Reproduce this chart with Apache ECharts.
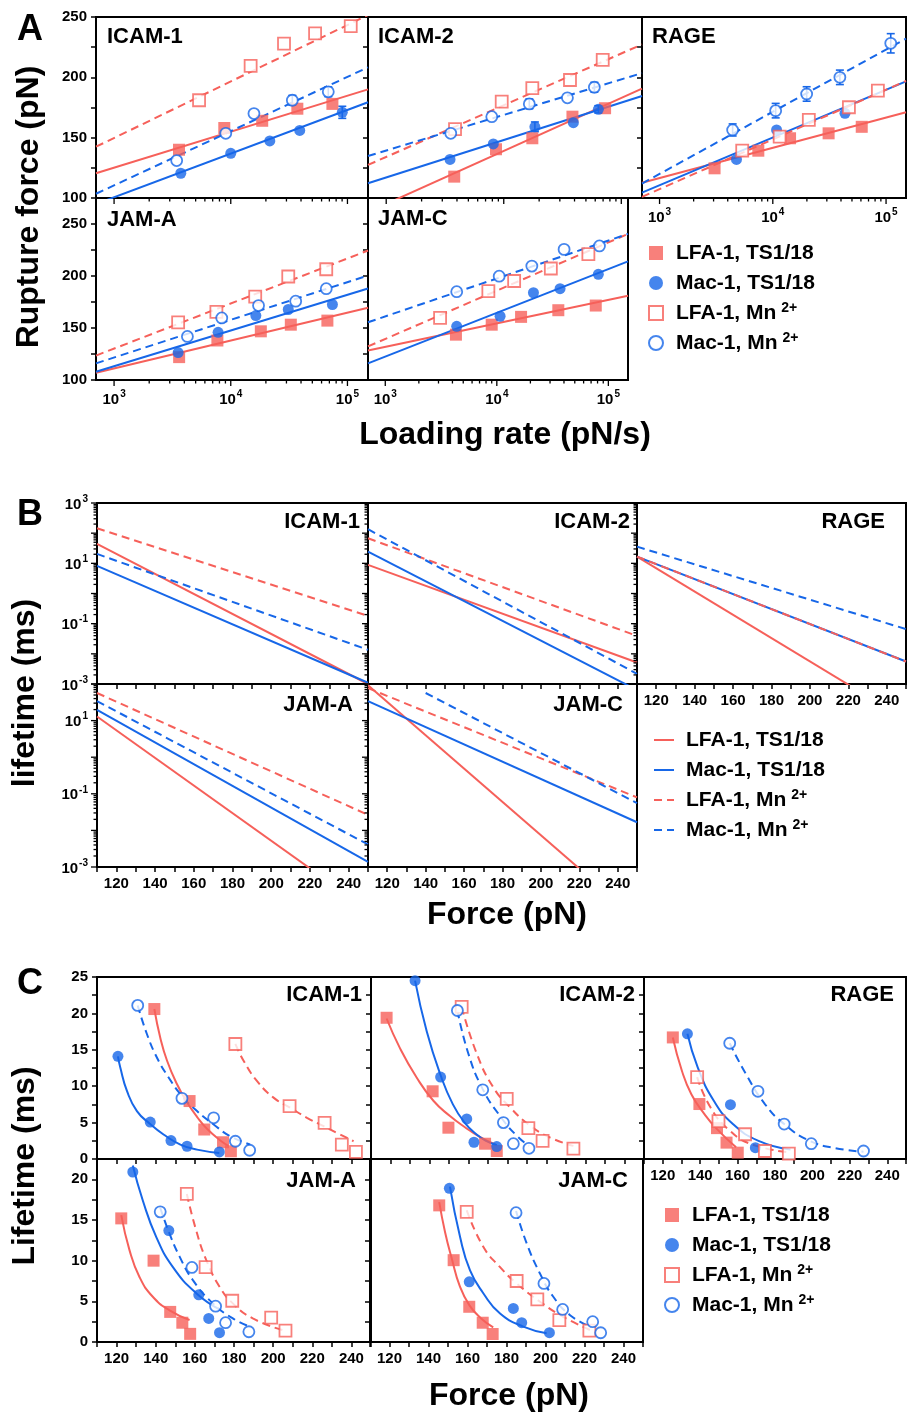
<!DOCTYPE html>
<html>
<head>
<meta charset="utf-8">
<script src="https://cdn.jsdelivr.net/npm/echarts@6/dist/echarts.min.js"></script>
<style>
html, body { margin: 0; background: #fff; }
#chart { width: 909px; height: 1415px; }
</style>
</head>
<body>
<div id="chart"></div>
<script>
const RED = '#f6605a';
const BLUE = '#1767e8';
const INK = '#000';
const FONT = '"Liberation Sans", Arial, sans-serif';

// ---------- A: rupture force (pN) vs loading rate (pN/s) ----------
const rupIcam1LfaTs = [[3600,140],[8800,158],[18600,164],[37200,174],[74300,178]];
const rupIcam1MacTs = [[3730,120.5],[10000,137],[21600,147.3],[39000,156],[90300,171]];
const rupIcam1LfaMn = [[5350,181],[14800,209.5],[28600,228],[52800,236.5],[106700,242.5]];
const rupIcam1MacMn = [[3440,131],[9060,153.6],[15800,170],[33700,181],[68500,188]];
const fitIcam1LfaTs = [[700,120.5],[150000,190]];
const fitIcam1MacTs = [[700,95],[150000,179.3]];
const fitIcam1LfaMn = [[700,142.5],[150000,251.6]];
const fitIcam1MacMn = [[700,103.5],[150000,208.3]];

const rupIcam2LfaTs = [[3790,117.7],[8590,140.4],[17500,149.5],[38400,167.4],[72800,174.4]];
const rupIcam2MacTs = [[3490,132],[8150,144.8],[18400,159],[39100,162.4],[63800,173.5]];
const rupIcam2LfaMn = [[3850,157],[9610,179.8],[17500,191],[36600,197.8],[69500,214.4]];
const rupIcam2MacMn = [[3540,153.6],[7910,167.4],[16500,178],[34800,183],[59000,191.8]];
const fitIcam2LfaTs = [[700,88.3],[150000,190.7]];
const fitIcam2MacTs = [[700,112.2],[150000,184.5]];
const fitIcam2LfaMn = [[700,127.4],[150000,227.3]];
const fitIcam2MacMn = [[700,134.8],[150000,203.5]];

const rupRageLfaTs = [[3060,124.6],[7450,139.2],[14200,149.5],[31100,153.6],[61000,159]];
const rupRageMacTs = [[4780,132],[10800,156.4],[43400,170.2]];
const rupRageLfaMn = [[5370,139.2],[11500,150.8],[20800,164.7],[47000,175.2],[84700,189]];
const rupRageMacMn = [[4420,156.4],[10600,172.4],[19900,186.2],[39100,200],[110000,228.2]];
const fitRageLfaTs = [[700,112.7],[150000,171]];
const fitRageMacTs = [[700,104.4],[150000,196.6]];
const fitRageLfaMn = [[700,101],[150000,197]];
const fitRageMacMn = [[700,112],[150000,232]];

const rupJamALfaTs = [[3610,122],[7680,138],[18100,146.8],[32700,153.2],[67300,157.1]];
const rupJamAMacTs = [[3540,126.4],[7790,145.8],[16400,162],[31100,167.8],[74300,172.6]];
const rupJamALfaMn = [[3540,155.5],[7530,165.5],[16200,180.1],[31100,199.5],[65800,206.5]];
const rupJamAMacMn = [[4250,141.9],[8370,159.7],[17300,171.6],[36000,175.8],[65800,187.8]];
const fitJamALfaTs = [[700,107],[150000,169.5]];
const fitJamAMacTs = [[700,108],[150000,188]];
const fitJamALfaMn = [[700,123.5],[150000,224.5]];
const fitJamAMacMn = [[700,116],[150000,200.5]];

const rupJamCLfaTs = [[4300,143.6],[9000,153.2],[16500,160.7],[35600,167.1],[77100,171.6]];
const rupJamCMacTs = [[4370,151.6],[10700,161.3],[21300,183.9],[36900,187.8],[81300,201.6]];
const rupJamCLfaMn = [[3100,159.7],[8400,185.5],[14300,195.2],[30500,207.2],[66200,221]];
const rupJamCMacMn = [[4370,184.9],[10500,199.8],[20600,209.5],[40100,225.6],[83200,228.9]];
const fitJamCLfaTs = [[700,128.4],[150000,181]];
const fitJamCMacTs = [[700,116],[150000,214]];
const fitJamCLfaMn = [[700,132.3],[150000,240.5]];
const fitJamCMacMn = [[700,155.5],[150000,240.5]];

// error bars: [rate, force, half-width]
const errIcam1MacTs = [[90300,171,5]];
const errIcam1MacMn = [[33700,181,4],[68500,188,4]];
const errIcam2MacTs = [[18400,159,4],[63800,173.5,3]];
const errIcam2MacMn = [[16500,178,4],[59000,191.8,4]];
const errRageMacMn = [[4420,156.4,5],[10600,172.4,6],[19900,186.2,6],[39100,200,6],[110000,228.2,8]];

// ---------- B: fitted lifetime (ms) vs force (pN) ----------
const lifeIcam1LfaTs = [[110,43.9],[250,0.001]];
const lifeIcam1MacTs = [[110,8.2],[250,0.0011]];
const lifeIcam1LfaMn = [[110,145],[250,0.181]];
const lifeIcam1MacMn = [[110,20.5],[250,0.0136]];
const lifeIcam2LfaTs = [[110,8.85],[250,0.00515]];
const lifeIcam2MacTs = [[110,24.4],[250,0.00063]];
const lifeIcam2LfaMn = [[110,67.6],[250,0.0394]];
const lifeIcam2MacMn = [[110,135],[250,0.00218]];
const lifeRageLfaTs = [[110,16.7],[250,0.000066]];
const lifeRageMacTs = [[110,16.7],[250,0.00556]];
const lifeRageLfaMn = [[110,16.7],[250,0.00556]];
const lifeRageMacMn = [[110,35.7],[250,0.066]];
const lifeJamALfaTs = [[110,12.9],[250,0.000068]];
const lifeJamAMacTs = [[110,19.7],[250,0.00137]];
const lifeJamALfaMn = [[110,56.8],[250,0.0266]];
const lifeJamAMacMn = [[110,34.1],[250,0.00413]];
const lifeJamCLfaTs = [[110,92],[250,0.000039]];
const lifeJamCMacTs = [[110,34.1],[250,0.0167]];
const lifeJamCLfaMn = [[110,77],[250,0.08]];
const lifeJamCMacMn = [[140,56.8],[250,0.0558]];

// ---------- C: lifetime (ms) vs force (pN) ----------
const ltIcam1LfaTs = [[139.3,20.6],[157.3,7.96],[164.8,4.05],[174.4,2.3],[178.4,1.06]];
const ltIcam1MacTs = [[120.7,14.1],[137.2,5.07],[147.8,2.53],[156,1.75],[172.5,0.97]];
const ltIcam1LfaMn = [[180.7,15.8],[208.4,7.27],[226.3,4.97],[235.1,1.98],[242.3,0.97]];
const ltIcam1MacMn = [[130.8,21.1],[153.4,8.33],[169.6,5.66],[180.7,2.44],[188,1.2]];
const crvIcam1LfaTs = [[139.3,20.6],[142.3,16.7],[145.8,13.5],[150.9,10.27],[156,7.8],[161.1,5.8],[166.2,4.15],[173,2.55],[177.2,1.8]];
const crvIcam1MacTs = [[120.7,14.1],[121.9,12.57],[125.3,9.35],[130.4,6.58],[137.2,4.8],[144,3.36],[152.6,1.98],[161.1,1.29],[172.5,0.83]];
const crvIcam1LfaMn = [[180.7,15.8],[184.9,13.49],[191.7,10.73],[200.2,8.43],[208.7,7.04],[217.3,5.66],[225.8,4.51],[234.3,3.36],[241.1,2.44]];
const crvIcam1MacMn = [[130.8,21.1],[135.5,17.17],[140.6,13.95],[146.6,11.19],[153.4,8.66],[161.1,6.58],[169.6,4.74],[178.1,3.13],[188.3,1.98]];

const ltIcam2LfaTs = [[118,19.4],[141.6,9.3],[149.7,4.3],[168.5,2.1],[174.5,1.1]];
const ltIcam2MacTs = [[132.6,24.5],[145.7,11.25],[159.1,5.5],[162.8,2.3],[174.5,1.7]];
const ltIcam2LfaMn = [[156.5,20.9],[179.6,8.25],[190.7,4.24],[198,2.5],[213.8,1.42]];
const ltIcam2MacMn = [[154.3,20.4],[167.3,9.5],[177.9,5.0],[183,2.1],[191,1.47]];
const crvIcam2LfaTs = [[118,19.3],[124.9,15.2],[133.4,11.2],[142,8.0],[150.5,5.9],[158,4.4],[166,3.0],[174.5,1.9]];
const crvIcam2MacTs = [[132.6,24.5],[138.6,17.5],[145.7,11.5],[152,7.5],[158,5.0],[164,3.4],[169,2.5],[174.5,1.9]];
const crvIcam2LfaMn = [[156.5,20.9],[164.2,14.5],[172.7,9.85],[181.3,7.1],[191.5,4.6],[201.8,2.95],[213.8,1.8]];
const crvIcam2MacMn = [[154.3,20.4],[159.9,14.5],[167.3,9.6],[176.2,5.9],[184.7,3.2],[191,1.8]];

const ltRageLfaTs = [[125.4,16.7],[139.6,7.55],[149,4.24],[154.1,2.25],[160.1,0.87]];
const ltRageMacTs = [[133.2,17.2],[156.2,7.46],[169.5,1.56]];
const ltRageLfaMn = [[138.4,11.25],[149.8,5.2],[164,3.4],[174.6,1.1],[187.4,0.73]];
const ltRageMacMn = [[155.8,15.9],[170.9,9.3],[184.9,4.8],[199.4,2.1],[227.3,1.1]];
const crvRageLfaTs = [[125.4,16.7],[130.2,12.15],[135.3,8.9],[142.2,6.2],[149,4.1],[159.2,1.6]];
const crvRageMacTs = [[133.2,17.2],[138.7,12.6],[147.3,8.0],[157.5,4.8],[171.2,2.5],[188.3,1.3]];
const crvRageLfaMn = [[138.4,11.25],[145.5,7.1],[155.8,3.9],[167.8,2.0],[188.3,0.9]];
const crvRageMacMn = [[155.8,15.9],[164.4,11.7],[174.6,7.55],[184.9,4.8],[198.5,2.5],[212.2,1.5],[227.3,1.0]];

const ltJamALfaTs = [[122.4,15.2],[138.9,10.0],[147.4,3.7],[153.6,2.37],[157.6,1.0]];
const ltJamAMacTs = [[128.3,20.9],[146.7,13.7],[162,5.8],[167.1,2.9],[172.6,1.15]];
const ltJamALfaMn = [[155.9,18.2],[165.5,9.2],[179.1,5.07],[199,3.0],[206.3,1.4]];
const ltJamAMacMn = [[142.3,16.0],[158.5,9.17],[170.6,4.4],[175.7,2.37],[187.6,1.26]];
const crvJamALfaTs = [[122.4,15.6],[126.6,11.3],[131.7,8.0],[138.5,5.56],[147.1,3.9],[157.3,2.7]];
const crvJamAMacTs = [[128.3,21.7],[133.4,17.4],[140.3,12.9],[148.8,9.2],[160.7,6.0],[172.6,4.0]];
const crvJamALfaMn = [[155.9,18.2],[160.7,13.7],[165.8,10.1],[172.6,6.8],[179.4,4.75],[189.6,2.9],[204.9,1.47]];
const crvJamAMacMn = [[142.3,16.5],[147.1,13.3],[152.2,10.5],[159,7.6],[169.2,4.75],[179.4,2.9],[188,1.9]];

const ltJamCLfaTs = [[145.5,16.8],[152.9,10.06],[160.9,4.33],[167.8,2.37],[172.9,0.98]];
const ltJamCMacTs = [[150.7,18.9],[160.9,7.4],[183.5,4.13],[187.8,2.37],[202,1.14]];
const ltJamCLfaMn = [[159.6,16.0],[185.2,7.5],[195.8,5.24],[207.1,2.7],[222.5,1.39]];
const ltJamCMacMn = [[184.9,15.9],[199.2,7.2],[208.8,4.0],[224.2,2.5],[228.3,1.14]];
const crvJamCLfaTs = [[145.5,17.2],[148.5,13.5],[152,10.2],[156,6.9],[161,4.5],[167,2.9],[173.2,1.8]];
const crvJamCMacTs = [[151,19.1],[156.2,12.9],[161.3,8.8],[168.1,6.0],[176.7,3.5],[188.6,1.9],[200.6,1.07]];
const crvJamCLfaMn = [[159.6,16.2],[168.1,11.7],[176.7,9.2],[185.2,7.2],[197.2,4.95],[209.1,3.1],[222.8,1.47]];
const crvJamCMacMn = [[184.9,16.1],[190.4,12.1],[197.2,8.4],[204,5.56],[212.6,3.3],[222.8,1.9]];

// log-axis tick positions
const rateTicks = [1000,2000,3000,4000,5000,6000,7000,8000,9000,
  10000,20000,30000,40000,50000,60000,70000,80000,90000,100000];
const lifeTicks = [0.001,0.002,0.003,0.004,0.005,0.006,0.007,0.008,0.009,
  0.01,0.02,0.03,0.04,0.05,0.06,0.07,0.08,0.09,
  0.1,0.2,0.3,0.4,0.5,0.6,0.7,0.8,0.9,
  1,2,3,4,5,6,7,8,9,
  10,20,30,40,50,60,70,80,90,
  100,200,300,400,500,600,700,800,900,1000];

const kinds = [
  {name: 'LFA-1, TS1/18', color: RED, symbol: 'rect', open: false, dash: false},
  {name: 'Mac-1, TS1/18', color: BLUE, symbol: 'circle', open: false, dash: false},
  {name: 'LFA-1, Mn2+', color: RED, symbol: 'rect', open: true, dash: true},
  {name: 'Mac-1, Mn2+', color: BLUE, symbol: 'circle', open: true, dash: true}
];

const option = {
  animation: false,
  backgroundColor: '#fff',
  grid: [], xAxis: [], yAxis: [], series: [], legend: [],
  graphic: {elements: []}
};

const labelFont = {color: INK, fontFamily: FONT, fontWeight: 'bold', fontSize: 15};
const supRich = {
  b: {color: INK, fontFamily: FONT, fontWeight: 'bold', fontSize: 15, lineHeight: 18, verticalAlign: 'bottom'},
  s: {color: INK, fontFamily: FONT, fontWeight: 'bold', fontSize: 10, lineHeight: 11, verticalAlign: 'top', padding: [0, 0, 0, 1]}
};

function powLabel(v, keep) {
  const e = Math.log10(v), r = Math.round(e);
  if (Math.abs(e - r) > 1e-6 || !keep(r)) return '';
  return '{b|10}{s|' + r + '}';
}

function linAxis(min, max, step, show, fmt) {
  return {
    type: 'value', min, max, interval: step,
    axisLine: {show: false}, splitLine: {show: false},
    axisTick: {show: true, length: 5, lineStyle: {color: INK, width: 1.5}},
    axisLabel: Object.assign({show, margin: 9, formatter: fmt}, labelFont)
  };
}

function logAxis(min, max, show, keep) {
  return {
    type: 'log', logBase: 10, min, max,
    axisLine: {show: false}, splitLine: {show: false},
    axisTick: {show: false}, minorTick: {show: false},
    axisLabel: {show, margin: 9, formatter: v => powLabel(v, keep), rich: supRich}
  };
}

function addGrid(box, xAx, yAx) {
  const i = option.grid.length;
  option.grid.push({left: box[0], top: box[1], width: box[2], height: box[3],
    show: true, borderColor: INK, borderWidth: 2, backgroundColor: 'rgba(0,0,0,0)'});
  option.xAxis.push(Object.assign({gridIndex: i}, xAx));
  option.yAxis.push(Object.assign({gridIndex: i}, yAx));
  return i;
}

// log ticks drawn through the axis scale (major at decades, minor between)
function logTicks(gi, dim, values, at, lo, hi) {
  const vals = values.filter(v => v >= lo * 0.999 && v <= hi * 1.001);
  option.series.push({
    type: 'custom', xAxisIndex: gi, yAxisIndex: gi, silent: true, clip: false, z: 5,
    data: vals.map(v => dim === 'x' ? [v, at] : [at, v]),
    renderItem: (params, api) => {
      const v = api.value(dim === 'x' ? 0 : 1);
      const e = Math.log10(v);
      const len = Math.abs(e - Math.round(e)) < 1e-6 ? 6 : 3.5;
      const p = api.coord([api.value(0), api.value(1)]);
      const shape = dim === 'x'
        ? {x1: p[0], y1: p[1], x2: p[0], y2: p[1] + len}
        : {x1: p[0], y1: p[1], x2: p[0] - len, y2: p[1]};
      return {type: 'line', shape, style: {stroke: INK, lineWidth: 1.3}};
    }
  });
}

function fitLine(gi, data, k, name, smooth) {
  return {
    type: 'line', name, xAxisIndex: gi, yAxisIndex: gi, data,
    symbol: 'none', silent: true, z: 2, clip: true,
    smooth: smooth ? 0.5 : false,
    lineStyle: {color: k.color, width: 2, type: k.dash ? [8, 5] : 'solid'},
    itemStyle: {color: k.color}
  };
}

function points(gi, data, k, sec) {
  return {
    type: 'scatter', name: sec + '|' + k.name, xAxisIndex: gi, yAxisIndex: gi, data,
    symbol: k.symbol, symbolSize: k.symbol === 'rect' ? 12 : 11, z: 4, silent: true,
    itemStyle: k.open ? {color: '#fff', borderColor: k.color, borderWidth: 1.8} : {color: k.color}
  };
}

function errBars(gi, data, color) {
  return {
    type: 'custom', xAxisIndex: gi, yAxisIndex: gi, data, silent: true, z: 3,
    renderItem: (params, api) => {
      const x = api.value(0), y = api.value(1), e = api.value(2);
      const t = api.coord([x, y + e]), b = api.coord([x, y - e]);
      const st = {stroke: color, lineWidth: 1.6};
      return {type: 'group', children: [
        {type: 'line', shape: {x1: t[0], y1: t[1], x2: b[0], y2: b[1]}, style: st},
        {type: 'line', shape: {x1: t[0] - 4, y1: t[1], x2: t[0] + 4, y2: t[1]}, style: st},
        {type: 'line', shape: {x1: b[0] - 4, y1: b[1], x2: b[0] + 4, y2: b[1]}, style: st}
      ]};
    }
  };
}

function text(str, x, y, size, align, rot) {
  option.graphic.elements.push({
    type: 'text', x, y, rotation: rot || 0, silent: true, z: 10,
    style: {text: str, font: 'bold ' + size + 'px ' + FONT, fill: INK,
      align: align || 'left', verticalAlign: 'middle'}
  });
}

function legend(sec, left, top, padL) {
  const isLine = sec === 'B';
  option.legend.push({
    data: kinds.map(k => sec + '|' + k.name),
    orient: 'vertical', left, top, padding: 0, itemGap: 6,
    itemWidth: isLine ? 20 : 14, itemHeight: 14, selectedMode: false,
    itemStyle: isLine ? {opacity: 0} : {},
    formatter: n => n.slice(2).replace('Mn2+', 'Mn{s|2+}'),
    textStyle: {
      color: INK, fontFamily: FONT, fontWeight: 'bold', fontSize: 21, lineHeight: 24,
      padding: [0, 0, 0, padL],
      rich: {s: {color: INK, fontFamily: FONT, fontWeight: 'bold', fontSize: 14, lineHeight: 10,
        verticalAlign: 'top', padding: [0, 0, 0, 5]}}
    }
  });
}

// ---------- panel A ----------
const panelsA = [
  {title: 'ICAM-1', box: [96, 17, 272, 181], yMax: 250, yLab: true, xLab: false, tx: 107, ty: 37,
   pts: [rupIcam1LfaTs, rupIcam1MacTs, rupIcam1LfaMn, rupIcam1MacMn],
   fits: [fitIcam1LfaTs, fitIcam1MacTs, fitIcam1LfaMn, fitIcam1MacMn],
   errs: [[1, errIcam1MacTs], [3, errIcam1MacMn]]},
  {title: 'ICAM-2', box: [368, 17, 274, 181], yMax: 250, yLab: false, xLab: false, tx: 378, ty: 37,
   pts: [rupIcam2LfaTs, rupIcam2MacTs, rupIcam2LfaMn, rupIcam2MacMn],
   fits: [fitIcam2LfaTs, fitIcam2MacTs, fitIcam2LfaMn, fitIcam2MacMn],
   errs: [[1, errIcam2MacTs], [3, errIcam2MacMn]]},
  {title: 'RAGE', box: [642, 17, 274, 181], yMax: 250, yLab: false, xLab: true, tx: 652, ty: 37,
   pts: [rupRageLfaTs, rupRageMacTs, rupRageLfaMn, rupRageMacMn],
   fits: [fitRageLfaTs, fitRageMacTs, fitRageLfaMn, fitRageMacMn],
   errs: [[3, errRageMacMn]]},
  {title: 'JAM-A', box: [96, 198, 272, 182], yMax: 275, yLab: true, xLab: true, tx: 107, ty: 220,
   pts: [rupJamALfaTs, rupJamAMacTs, rupJamALfaMn, rupJamAMacMn],
   fits: [fitJamALfaTs, fitJamAMacTs, fitJamALfaMn, fitJamAMacMn], errs: []},
  {title: 'JAM-C', box: [368, 198, 260, 182], yMax: 275, yLab: false, xLab: true, tx: 378, ty: 219,
   pts: [rupJamCLfaTs, rupJamCMacTs, rupJamCLfaMn, rupJamCMacMn],
   fits: [fitJamCLfaTs, fitJamCMacTs, fitJamCLfaMn, fitJamCMacMn], errs: []}
];

panelsA.forEach(p => {
  const gi = addGrid(p.box,
    logAxis(700, 150000, p.xLab, () => true),
    linAxis(100, p.yMax, 25, p.yLab, v => (v % 50 === 0 && v <= 250) ? v : ''));
  logTicks(gi, 'x', rateTicks, 100, 700, 150000);
  kinds.forEach((k, j) => option.series.push(fitLine(gi, p.fits[j], k)));
  p.errs.forEach(([j, arr]) => option.series.push(errBars(gi, arr, kinds[j].color)));
  kinds.forEach((k, j) => option.series.push(points(gi, p.pts[j], k, 'A')));
  text(p.title, p.tx, p.ty, 22, 'left');
});

// ---------- panel B ----------
const panelsB = [
  {title: 'ICAM-1', box: [97, 503, 271, 181], yMax: 1000, yLab: true, xLab: false, tx: 360, ty: 522,
   lines: [lifeIcam1LfaTs, lifeIcam1MacTs, lifeIcam1LfaMn, lifeIcam1MacMn]},
  {title: 'ICAM-2', box: [368, 503, 269, 181], yMax: 1000, yLab: false, xLab: false, tx: 630, ty: 522,
   lines: [lifeIcam2LfaTs, lifeIcam2MacTs, lifeIcam2LfaMn, lifeIcam2MacMn]},
  {title: 'RAGE', box: [637, 503, 270, 181], yMax: 1000, yLab: false, xLab: true, tx: 885, ty: 522,
   lines: [lifeRageLfaTs, lifeRageMacTs, lifeRageLfaMn, lifeRageMacMn]},
  {title: 'JAM-A', box: [97, 684, 271, 183], yMax: 100, yLab: true, xLab: true, tx: 353, ty: 705,
   lines: [lifeJamALfaTs, lifeJamAMacTs, lifeJamALfaMn, lifeJamAMacMn]},
  {title: 'JAM-C', box: [368, 684, 269, 183], yMax: 100, yLab: false, xLab: true, tx: 623, ty: 705,
   lines: [lifeJamCLfaTs, lifeJamCMacTs, lifeJamCLfaMn, lifeJamCMacMn]}
];

panelsB.forEach(p => {
  const gi = addGrid(p.box,
    linAxis(110, 250, 10, p.xLab, v => (v >= 120 && v <= 240 && (v - 120) % 20 === 0) ? v : ''),
    logAxis(0.001, p.yMax, p.yLab, r => Math.abs(r % 2) === 1));
  logTicks(gi, 'y', lifeTicks, 110, 0.001, p.yMax);
  kinds.forEach((k, j) => option.series.push(fitLine(gi, p.lines[j], k, 'B|' + k.name)));
  text(p.title, p.tx, p.ty, 22, 'right');
});

// ---------- panel C ----------
const panelsC = [
  {title: 'ICAM-1', box: [97, 977, 274, 182], yMax: 25, yLab: true, xLab: false, tx: 362, ty: 995,
   pts: [ltIcam1LfaTs, ltIcam1MacTs, ltIcam1LfaMn, ltIcam1MacMn],
   crvs: [crvIcam1LfaTs, crvIcam1MacTs, crvIcam1LfaMn, crvIcam1MacMn]},
  {title: 'ICAM-2', box: [371, 977, 273, 182], yMax: 25, yLab: false, xLab: false, tx: 635, ty: 995,
   pts: [ltIcam2LfaTs, ltIcam2MacTs, ltIcam2LfaMn, ltIcam2MacMn],
   crvs: [crvIcam2LfaTs, crvIcam2MacTs, crvIcam2LfaMn, crvIcam2MacMn]},
  {title: 'RAGE', box: [644, 977, 273, 182], yMax: 25, yLab: false, xLab: true, tx: 894, ty: 995,
   pts: [ltRageLfaTs, ltRageMacTs, ltRageLfaMn, ltRageMacMn],
   crvs: [crvRageLfaTs, crvRageMacTs, crvRageLfaMn, crvRageMacMn]},
  {title: 'JAM-A', box: [97, 1159, 274, 183], yMax: 22.5, yLab: true, xLab: true, tx: 356, ty: 1181,
   pts: [ltJamALfaTs, ltJamAMacTs, ltJamALfaMn, ltJamAMacMn],
   crvs: [crvJamALfaTs, crvJamAMacTs, crvJamALfaMn, crvJamAMacMn]},
  {title: 'JAM-C', box: [370, 1159, 273, 183], yMax: 22.5, yLab: false, xLab: true, tx: 628, ty: 1181,
   pts: [ltJamCLfaTs, ltJamCMacTs, ltJamCLfaMn, ltJamCMacMn],
   crvs: [crvJamCLfaTs, crvJamCMacTs, crvJamCLfaMn, crvJamCMacMn]}
];

panelsC.forEach(p => {
  const gi = addGrid(p.box,
    linAxis(110, 250, 10, p.xLab, v => (v >= 120 && v <= 240 && (v - 120) % 20 === 0) ? v : ''),
    linAxis(0, p.yMax, 2.5, p.yLab, v => v % 5 === 0 ? v : ''));
  kinds.forEach((k, j) => option.series.push(fitLine(gi, p.crvs[j], k, undefined, true)));
  kinds.forEach((k, j) => option.series.push(points(gi, p.pts[j], k, 'C')));
  text(p.title, p.tx, p.ty, 22, 'right');
});

// ---------- legends and labels ----------
legend('A', 648, 241, 8);
legend('B', 653, 728, 7);
legend('C', 664, 1203, 8);

text('A', 30, 30, 36, 'center');
text('B', 30, 515, 36, 'center');
text('C', 30, 984, 36, 'center');
text('Rupture force (pN)', 29, 207, 32, 'center', Math.PI / 2);
text('Loading rate (pN/s)', 505, 435, 32, 'center');
text('lifetime (ms)', 25, 693, 32, 'center', Math.PI / 2);
text('Force (pN)', 507, 915, 32, 'center');
text('Lifetime (ms)', 25, 1166, 32, 'center', Math.PI / 2);
text('Force (pN)', 509, 1396, 32, 'center');

const chart = echarts.init(document.getElementById('chart'));
chart.setOption(option);
</script>
</body>
</html>
